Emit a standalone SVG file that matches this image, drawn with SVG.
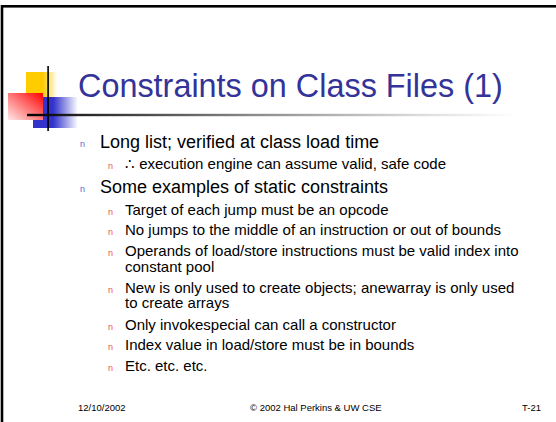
<svg xmlns="http://www.w3.org/2000/svg" width="556" height="422" viewBox="0 0 556 422">
<style>
.title{font-family:"Liberation Sans",Arial,sans-serif;font-size:32.4px;fill:#333399}
.l1{font-family:"Liberation Sans",Arial,sans-serif;font-size:18px;fill:#000}
.l2{font-family:"Liberation Sans",Arial,sans-serif;font-size:15px;fill:#000}
.b1{font-family:"Liberation Sans",Arial,sans-serif;font-size:9px;fill:#6666cc}
.b2{font-family:"Liberation Sans",Arial,sans-serif;font-size:9px;fill:#ee5555}
.ft{font-family:"Liberation Sans",Arial,sans-serif;font-size:9.5px;fill:#000}
</style>
<defs>
<linearGradient id="gy" x1="0" y1="0" x2="1" y2="0">
<stop offset="0" stop-color="#ffcc00"/><stop offset="0.55" stop-color="#ffcc00"/><stop offset="1" stop-color="#ffcc00" stop-opacity="0"/>
</linearGradient>
<linearGradient id="gb" x1="0" y1="0" x2="1" y2="0">
<stop offset="0" stop-color="#3333cc"/><stop offset="0.45" stop-color="#3333cc"/><stop offset="1" stop-color="#3333cc" stop-opacity="0"/>
</linearGradient>
<linearGradient id="gr" x1="0" y1="1" x2="1" y2="0">
<stop offset="0" stop-color="#ffe8e8"/><stop offset="0.6" stop-color="#ff6060"/><stop offset="1" stop-color="#ff0000"/>
</linearGradient>
<linearGradient id="gl" x1="0" y1="0" x2="1" y2="0">
<stop offset="0" stop-color="#000"/><stop offset="0.1" stop-color="#222"/><stop offset="0.45" stop-color="#888"/><stop offset="0.8" stop-color="#dcdcdc"/><stop offset="1" stop-color="#fff"/>
</linearGradient>
</defs>
<rect width="556" height="422" fill="#fff"/>
<rect x="2" y="6.3" width="600" height="500" fill="none" stroke="#000" stroke-width="2.6"/>
<g id="logo">
<rect x="26" y="72" width="31" height="31" fill="url(#gy)"/>
<rect x="33" y="97" width="45" height="31" fill="url(#gb)"/>
<rect x="8" y="93" width="35" height="27" fill="url(#gr)"/>
<rect x="47.3" y="66" width="1.6" height="65" fill="#000"/>
<rect x="27" y="113.8" width="492" height="2.4" fill="url(#gl)"/>
</g>
<g id="title">
<text class="title" x="78" y="97">Constraints on Class Files (1)</text>
</g>
<g id="body">
<text class="b1" x="80" y="147">n</text>
<text class="l1" x="100" y="148.3">Long list; verified at class load time</text>
<text class="b2" x="108" y="169">n</text>
<text class="l2" x="125" y="169.3">∴ execution engine can assume valid, safe code</text>
<text class="b1" x="80" y="192">n</text>
<text class="l1" x="100" y="193.3">Some examples of static constraints</text>
<text class="b2" x="108" y="215">n</text>
<text class="l2" x="125" y="215">Target of each jump must be an opcode</text>
<text class="b2" x="108" y="235">n</text>
<text class="l2" x="125" y="235">No jumps to the middle of an instruction or out of bounds</text>
<text class="b2" x="108" y="256">n</text>
<text class="l2" x="125" y="256">Operands of load/store instructions must be valid index into</text>
<text class="l2" x="125" y="271.7">constant pool</text>
<text class="b2" x="108" y="292.7">n</text>
<text class="l2" x="125" y="292.7">New is only used to create objects; anewarray is only used</text>
<text class="l2" x="125" y="308.3">to create arrays</text>
<text class="b2" x="108" y="330">n</text>
<text class="l2" x="125" y="330">Only invokespecial can call a constructor</text>
<text class="b2" x="108" y="350">n</text>
<text class="l2" x="125" y="350">Index value in load/store must be in bounds</text>
<text class="b2" x="108" y="370.7">n</text>
<text class="l2" x="125" y="370.7">Etc. etc. etc.</text>
</g>
<g id="footer">
<text class="ft" x="78" y="411">12/10/2002</text>
<text class="ft" x="250" y="411">© 2002 Hal Perkins &amp; UW CSE</text>
<text class="ft" x="541" y="411" text-anchor="end">T-21</text>
</g>
</svg>
